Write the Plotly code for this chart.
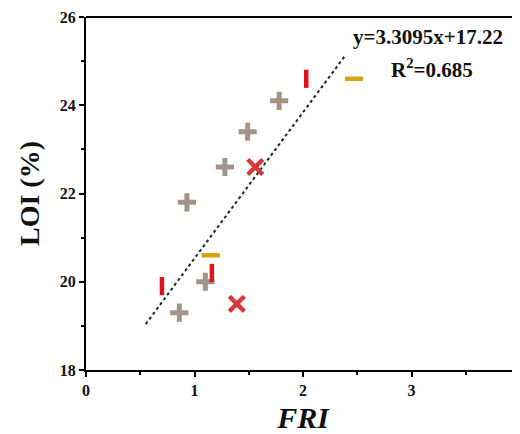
import plotly.graph_objects as go

# Data
plus_x = [1.78, 1.49, 1.28, 0.93, 1.10, 0.86]
plus_y = [24.1, 23.4, 22.6, 21.8, 20.0, 19.3]
xmark_x = [1.56, 1.39]
xmark_y = [22.6, 19.5]
vbar_x = [2.03, 0.70, 1.16]
vbar_y = [24.6, 19.9, 20.2]
hbar_x = [2.47, 1.15]
hbar_y = [24.6, 20.6]
fit_slope = 3.3095
fit_intercept = 17.22
fit_x = [0.55, 2.38]
fit_y = [fit_slope * v + fit_intercept for v in fit_x]
x_ticks = [0, 1, 2, 3, 4]
y_ticks = [18, 20, 22, 24, 26]

FONT = "Liberation Serif, Times New Roman, serif"
TICKFONT = dict(family=FONT, size=16, color="#111", weight="bold")

fig = go.Figure()
fig.add_trace(go.Scatter(x=fit_x, y=fit_y, mode="lines",
                         line=dict(color="#222", width=2, dash="dot"), showlegend=False))
fig.add_trace(go.Scatter(x=plus_x, y=plus_y, mode="markers", showlegend=False,
                         marker=dict(symbol="cross-thin", size=13,
                                     line=dict(color="#A3948A", width=5))))
fig.add_trace(go.Scatter(x=xmark_x, y=xmark_y, mode="markers", showlegend=False,
                         marker=dict(symbol="x-thin", size=15,
                                     line=dict(color="#D23A3C", width=4.5))))
fig.add_trace(go.Scatter(x=vbar_x, y=vbar_y, mode="markers", showlegend=False,
                         marker=dict(symbol="line-ns", size=13,
                                     line=dict(color="#E0121C", width=4.5))))
fig.add_trace(go.Scatter(x=hbar_x, y=hbar_y, mode="markers", showlegend=False,
                         marker=dict(symbol="line-ew", size=13,
                                     line=dict(color="#D4A312", width=4.5))))

fig.add_annotation(x=2.445, y=25.55, xref="x", yref="y", text="<b>y=3.3095x+17.22</b>",
                   showarrow=False, xanchor="left",
                   font=dict(family=FONT, size=21, color="#111"))
fig.add_annotation(x=2.79, y=24.84, xref="x", yref="y", text="<b>R<sup>2</sup>=0.685</b>",
                   showarrow=False, xanchor="left",
                   font=dict(family=FONT, size=21, color="#111"))

axis_common = dict(showline=True, linecolor="black", linewidth=2, ticks="outside",
                   tickwidth=2, ticklen=5, tickcolor="black", showgrid=False,
                   zeroline=False, tickfont=TICKFONT, automargin=False,
                   ticklabeloverflow="allow")

fig.update_xaxes(range=[0, 4], tickvals=x_ticks, mirror=False,
                 minor=dict(dtick=0.5, ticks="outside", ticklen=3, tickwidth=2, tickcolor="black"),
                 title=dict(text="<b><i>FRI</i></b>", font=dict(family=FONT, size=30, color="#111"),
                            standoff=16),
                 **axis_common)
fig.update_yaxes(range=[18, 26], tickvals=y_ticks, mirror=False,
                 minor=dict(dtick=1, ticks="outside", ticklen=3, tickwidth=2, tickcolor="black"),
                 title=dict(text="<b>LOI (%)</b>", font=dict(family=FONT, size=28, color="#111"),
                            standoff=12),
                 **axis_common)
# top border
fig.add_shape(type="line", xref="paper", yref="paper", x0=0, x1=1, y0=1, y1=1,
              line=dict(color="black", width=2))

# page body has an 8px default margin; compensate
fig.update_layout(width=512, height=426, margin=dict(l=78, r=0, t=9, b=64),
                  plot_bgcolor="white", paper_bgcolor="white",
                  font=dict(family=FONT, color="#111"))

fig.write_html("out.html")
